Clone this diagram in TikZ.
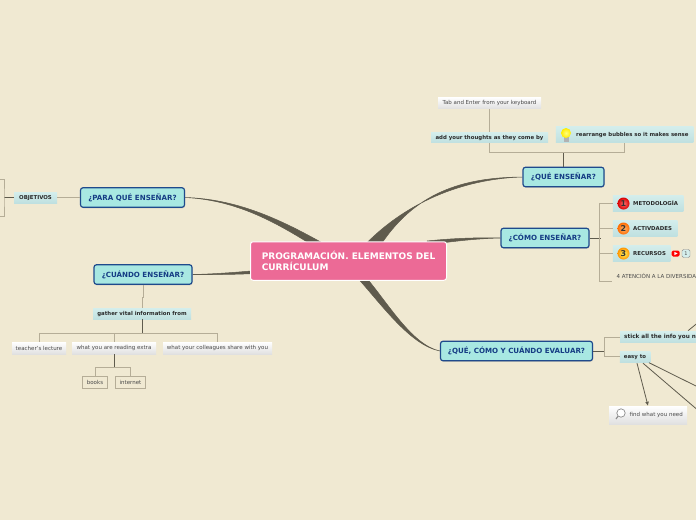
\documentclass[tikz,border=0pt]{standalone}
\usepackage{fontspec}
\setmainfont{DejaVu Sans}
\usetikzlibrary{calc,shadows,arrows.meta}
\pgfdeclarelayer{under}
\pgfsetlayers{under,main}
\definecolor{bgc}{HTML}{F0E9D2}
\definecolor{rootc}{HTML}{EC6A96}
\definecolor{topicc}{HTML}{A8E8E2}
\definecolor{topicb}{HTML}{1F4A8C}
\definecolor{topict}{HTML}{153C84}
\definecolor{darkl}{HTML}{5F5B4D}
\definecolor{lightl}{HTML}{B5AD97}
\definecolor{bubt}{HTML}{D4EEEC}
\definecolor{bubb}{HTML}{BFE0E0}
\definecolor{txt}{HTML}{2A2A2A}
\tikzset{
 x=1pt,y=-1pt,
 rootnode/.style={draw=white,line width=1pt,fill=rootc,rounded corners=2.5pt,minimum width=196pt,minimum height=38.5pt,inner sep=0pt,text=white,align=left,font=\bfseries\fontsize{9}{11}\selectfont},
 topic/.style={draw=topicb,line width=1.2pt,fill=topicc,rounded corners=2.5pt,inner sep=0pt,minimum height=19.5pt,text height=5.6pt,text depth=0.2pt,text=topict,font=\bfseries\fontsize{7.1}{8}\selectfont,drop shadow={shadow xshift=0.5pt,shadow yshift=-1pt,opacity=.3}},
 bubble/.style={top color=bubt,bottom color=bubb,draw=none,inner sep=0pt,text height=4.2pt,text depth=0.4pt,text=txt,font=\bfseries\fontsize{5.4}{6}\selectfont},
 plain/.style={top color=white,bottom color=white!88!black,draw=none,inner sep=0pt,text=txt!85!white,font=\fontsize{5.5}{6}\selectfont},
 boxed/.style={draw=lightl,line width=.7pt,fill=bgc,inner sep=0pt,text=txt!85!white,font=\fontsize{5.5}{6}\selectfont},
 bubtext/.style={anchor=west,inner sep=0pt,text=txt,font=\bfseries\fontsize{5.4}{6}\selectfont},
 plaintext/.style={anchor=west,inner sep=0pt,text=txt!85!white,font=\fontsize{5.5}{6}\selectfont},
 thinl/.style={draw=lightl,line width=1pt},
 darkline/.style={draw=darkl,line width=1pt},
 taper/.style={fill=darkl,draw=darkl,line width=.5pt},
 numdot/.style={circle,inner sep=0pt,minimum size=12pt,draw=none,text=black!80,font=\bfseries\fontsize{8}{9}\selectfont},
}
\begin{document}
\begin{tikzpicture}
\useasboundingbox (0,0) rectangle (696,520);
\clip (0,0) rectangle (696,520);
\begin{pgfonlayer}{under}
\fill[bgc] (0,0) rectangle (696,520);
\end{pgfonlayer}

% nodes
\node[rootnode] (root) at (348.5,261) {PROGRAMACIÓN. ELEMENTOS DEL\\CURRÍCULUM};

\node[topic,minimum width=81pt] (que) at (563.5,177) {¿QUÉ ENSEÑAR?};
\node[topic,minimum width=88pt] (como) at (545,238) {¿CÓMO ENSEÑAR?};
\node[topic,minimum width=152pt] (eval) at (516.5,351) {¿QUÉ, CÓMO Y CUÁNDO EVALUAR?};
\node[topic,minimum width=104pt] (para) at (132.5,197.5) {¿PARA QUÉ ENSEÑAR?};
\node[topic,minimum width=98pt] (cuando) at (143,274.5) {¿CUÁNDO ENSEÑAR?};

\node[plain,minimum width=103pt,minimum height=11.5pt] (tab) at (489.5,103) {Tab and Enter from your keyboard};
\node[bubble,minimum width=117pt,minimum height=10.5pt] (add) at (489.5,137.5) {add your thoughts as they come by};
\node[bubble,minimum width=137.5pt,minimum height=16.5pt] (rearr) at (624.5,134.5) {};
\node[bubtext] (rearrt) at (576,135) {rearrange bubbles so it makes sense};

\node[bubble,minimum width=70.5pt,minimum height=16pt] (met) at (648,203) {};
\node[bubtext] (mett) at (633,203.5) {METODOLOGÍA};
\node[bubble,minimum width=64.5pt,minimum height=16pt] (act) at (645,228) {};
\node[bubtext] (actt) at (633,228.5) {ACTIVDADES};
\node[bubble,minimum width=57.5pt,minimum height=16pt] (rec) at (641.5,253) {};
\node[bubtext] (rect) at (633,253.5) {RECURSOS};
\node[plaintext] (aten) at (616.5,276) {4 ATENCIÓN A LA DIVERSIDAD};
\coordinate (atenc) at (612,281);

\node[numdot,inner color=red!55!white,outer color=red!85!black] (n1) at (623.5,203.5) {1};
\node[numdot,inner color=orange!55!white,outer color=orange!85!red] (n2) at (623.5,228.5) {2};
\node[numdot,inner color=yellow!60!white,outer color=orange!85!yellow] (n3) at (623.5,253.5) {3};

\node[fill=red,rounded corners=1.5pt,minimum width=8pt,minimum height=6pt,inner sep=0pt] (yt) at (675.5,253.5) {};
\fill[white] (674.3,251.8) -- (677.5,253.5) -- (674.3,255.2) -- cycle;
\node[draw=black!45,fill=bubt,rounded corners=1.5pt,minimum width=8pt,minimum height=8pt,inner sep=0pt,font=\fontsize{5}{6}\selectfont,text=black!70] (cnt) at (686,253.5) {1};

% bulb
\fill[black!30] (563.5,137) rectangle (568.5,142);
\shade[inner color=yellow!50!white,outer color=yellow!85!orange] (566,133) circle (5pt);

\node[bubble,minimum width=80pt,minimum height=10.5pt,anchor=west] (stick) at (620,337) {};
\node[bubtext,font=\bfseries\fontsize{5.7}{6}\selectfont] (stickt) at (624,337) {stick all the info you need};
\node[bubble,minimum width=30.5pt,minimum height=11pt] (easy) at (635,356.5) {easy to};
\node[plain,minimum width=78pt,minimum height=18pt] (find) at (648,415) {};
\node[plaintext] (findt) at (629.5,415) {find what you need};
\coordinate (lens) at (621,413);
\draw[black!45,line width=1.1pt] (616,419) -- (618.5,415.5);
\draw[black!45,fill=white,line width=.7pt] (lens) circle (4.2pt);

\node[bubble,minimum width=43pt,minimum height=11pt] (obj) at (35.5,197.5) {OBJETIVOS};
\coordinate (objb) at (4,197.5);
\node[bubble,minimum width=98pt,minimum height=11pt] (gath) at (142,313.5) {gather vital information from};
\node[plain,minimum width=54pt,minimum height=12pt] (teach) at (39,348) {teacher's lecture};
\node[plain,minimum width=84pt,minimum height=12pt] (read) at (114,348) {what you are reading extra};
\node[plain,minimum width=109pt,minimum height=12pt] (coll) at (217.5,348) {what your colleagues share with you};
\node[boxed,minimum width=24.5pt,minimum height=12.5pt] (books) at (95,382.5) {books};
\node[boxed,minimum width=30.5pt,minimum height=12.5pt] (inet) at (130.5,382.5) {internet};

% free ends off the page
\coordinate (off1) at (700,321);
\coordinate (off2) at (700,412);
\coordinate (off3) at (700,388);
\coordinate (off4) at (-2,179);
\coordinate (off5) at (-2,216);

% tapered main connectors, under the nodes
\begin{pgfonlayer}{under}
\fill[taper] (que.west) .. controls (470,177.5) and (418,188) .. ($(root.north)+(32,4)$) -- ($(root.north)+(16,4)$) .. controls (410,198) and (470,178.5) .. (que.west) -- cycle;
\fill[taper] (para.east) .. controls (240,199) and (285,222) .. ($(root.north)+(-22,4)$) -- ($(root.north)+(-36,4)$) .. controls (278,224) and (238,200) .. (para.east) -- cycle;
\fill[taper] (como.west) .. controls (480,237.5) and (455,238) .. ($(root.east)+(-20,-20)$) -- ($(root.east)+(-20,-16)$) .. controls (458,240.5) and (480,238.5) .. (como.west) -- cycle;
\fill[taper] (cuando.east) .. controls (210,274.2) and (235,272.5) .. ($(root.west)+(6,9.5)$) -- ($(root.west)+(6,12.5)$) .. controls (235,274.5) and (210,274.8) .. (cuando.east) -- cycle;
\fill[taper] (eval.west) .. controls (410,345) and (382,305) .. ($(root.south)+(8,-4)$) -- ($(root.south)+(17,-4)$) .. controls (388,303) and (412,345) .. (eval.west) -- cycle;
\end{pgfonlayer}

% branch lines
\draw[darkline] (que.north) -- ++(0,-14.5) coordinate (qj);
\draw[thinl] (add.south) |- (qj) -| (rearr.south);
\draw[thinl] (tab.south) -- (add.north);

\draw[darkline] (como.east) -- ++(11,0) coordinate (cj);
\draw[thinl] (met.west) -- ++(-12.7,0) coordinate (c1);
\draw[thinl] (c1) -- (c1 |- atenc) -- (atenc);
\draw[thinl] (act.west) -- (c1 |- act.west);
\draw[thinl] (rec.west) -- (c1 |- rec.west);

\draw[darkline] (eval.east) -- ++(11,0) coordinate (ej);
\draw[thinl] (stick.west) -| (ej);
\draw[thinl] (easy.west) -| (ej);
\draw[darkl,line width=.8pt,-{Latex[length=4pt,width=4pt]}] (easy.south) ++(2,1) -- (find.north);
\draw[darkl,line width=.8pt] ($(easy.south)+(8,1)$) -- (off2);
\draw[darkl,line width=.8pt] ($(easy.south)+(14,0.5)$) -- (off3);
\draw[darkl,line width=.8pt] ($(stick.north)+(28,-1)$) -- (off1);

\draw[thinl] (para.west) -- (obj.east);
\draw[darkline] (obj.west) -- (objb);
\draw[thinl] (off4) -| (objb) |- (off5);

\draw[thinl] (cuando.south) -- ++(0,13) -- ++(-1,0) -- (gath.north);
\draw[darkline] (gath.south) -- ++(0,14) coordinate (gj);
\draw[thinl] (teach.north) |- (gj) -| (coll.north);
\draw[thinl] (read.north) |- (gj);
\draw[darkline] (read.south) -- ++(0,13) coordinate (rj);
\draw[thinl] (books.north) |- (rj) -| (inet.north);
\end{tikzpicture}
\end{document}
